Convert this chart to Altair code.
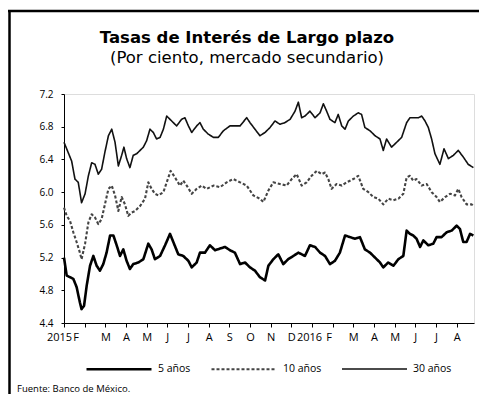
import json
import altair as alt
import pandas as pd

# ---------------- data ----------------
month_labels = ["2015", "F", "M", "A", "M", "J", "J", "A", "S", "O", "N", "D",
                "2016", "F", "M", "A", "M", "J", "J", "A"]
y_ticks = [4.4, 4.8, 5.2, 5.6, 6.0, 6.4, 6.8, 7.2]
series_names = ["5 años", "10 años", "30 años"]

# month position (0 = 1 Jan 2015) and rate, per series
m5 = [0.00, 0.13, 0.29, 0.45, 0.61, 0.77, 0.85, 0.97, 1.10, 1.26, 1.42, 1.58, 1.74, 1.90,
      2.06, 2.23, 2.39, 2.55, 2.71, 2.87, 3.03, 3.19, 3.35, 3.60, 3.84, 4.08, 4.24, 4.40,
      4.65, 4.89, 5.13, 5.29, 5.53, 5.77, 6.02, 6.18, 6.42, 6.58, 6.82, 7.06, 7.31, 7.55,
      7.79, 8.03, 8.27, 8.52, 8.76, 9.00, 9.24, 9.48, 9.73, 9.89, 10.13, 10.37, 10.61,
      10.85, 11.10, 11.34, 11.66, 11.90, 12.15, 12.39, 12.63, 12.87, 13.11, 13.35, 13.60,
      13.84, 14.08, 14.32, 14.56, 14.81, 15.05, 15.29, 15.45, 15.69, 15.94, 16.18, 16.42,
      16.58, 16.74, 16.90, 17.06, 17.23, 17.39, 17.63, 17.87, 18.03, 18.27, 18.52, 18.76,
      19.00, 19.16, 19.32, 19.48, 19.65, 19.81]
v5 = [5.20, 4.98, 4.96, 4.94, 4.84, 4.65, 4.57, 4.61, 4.86, 5.10, 5.22, 5.10, 5.04, 5.12,
      5.26, 5.47, 5.47, 5.35, 5.22, 5.30, 5.16, 5.06, 5.12, 5.14, 5.18, 5.37, 5.30, 5.18,
      5.22, 5.35, 5.49, 5.39, 5.24, 5.22, 5.16, 5.08, 5.14, 5.26, 5.26, 5.35, 5.29, 5.31,
      5.33, 5.29, 5.26, 5.12, 5.14, 5.08, 5.04, 4.96, 4.92, 5.10, 5.18, 5.24, 5.12,
      5.18, 5.22, 5.26, 5.22, 5.35, 5.33, 5.26, 5.22, 5.12, 5.16, 5.26, 5.47,
      5.45, 5.43, 5.45, 5.30, 5.26, 5.20, 5.14, 5.08, 5.14, 5.10, 5.18, 5.22,
      5.53, 5.49, 5.47, 5.43, 5.33, 5.41, 5.35, 5.37, 5.45, 5.45, 5.51, 5.53,
      5.59, 5.55, 5.39, 5.39, 5.49, 5.47]

m10 = [0.00, 0.13, 0.29, 0.45, 0.61, 0.77, 0.85, 1.02, 1.18, 1.34, 1.50, 1.66, 1.82, 1.98,
       2.15, 2.31, 2.47, 2.63, 2.79, 2.95, 3.11, 3.27, 3.44, 3.68, 3.92, 4.08, 4.24, 4.40,
       4.56, 4.81, 4.97, 5.16, 5.37, 5.61, 5.77, 5.94, 6.18, 6.42, 6.66, 6.90, 7.23, 7.55,
       7.87, 8.19, 8.52, 8.84, 9.16, 9.48, 9.65, 9.89, 10.13, 10.45, 10.77, 11.02, 11.26,
       11.50, 11.74, 11.98, 12.23, 12.47, 12.63, 12.79, 12.95, 13.19, 13.44, 13.68, 14.00,
       14.24, 14.48, 14.73, 14.97, 15.21, 15.45, 15.69, 15.94, 16.18, 16.42, 16.58, 16.74,
       16.90, 17.06, 17.31, 17.55, 17.79, 18.03, 18.19, 18.44, 18.68, 18.92, 19.08, 19.24,
       19.48, 19.73, 19.81]
v10 = [5.81, 5.71, 5.65, 5.51, 5.39, 5.26, 5.18, 5.37, 5.63, 5.73, 5.69, 5.61, 5.67, 5.85,
       6.04, 6.08, 5.96, 5.77, 5.94, 5.85, 5.71, 5.75, 5.77, 5.83, 5.92, 6.12, 6.04, 5.98,
       5.96, 6.00, 6.12, 6.26, 6.18, 6.08, 6.14, 6.08, 5.98, 6.04, 6.08, 6.04, 6.08, 6.06,
       6.12, 6.16, 6.12, 6.08, 5.96, 5.92, 5.88, 6.02, 6.12, 6.10, 6.08, 6.16, 6.22,
       6.08, 6.12, 6.20, 6.26, 6.22, 6.24, 6.16, 6.04, 6.10, 6.08, 6.12, 6.16,
       6.20, 6.04, 6.00, 5.94, 5.92, 5.85, 5.92, 5.90, 5.92, 5.98, 6.18, 6.20,
       6.14, 6.16, 6.08, 6.10, 6.00, 5.94, 5.88, 5.94, 5.98, 5.96, 6.04, 5.94,
       5.85, 5.85, 5.83]

m30 = [0.00, 0.37, 0.53, 0.69, 0.85, 1.02, 1.18, 1.34, 1.50, 1.66, 1.82, 1.98, 2.15, 2.31,
       2.47, 2.63, 2.79, 2.90, 3.03, 3.19, 3.35, 3.52, 3.68, 3.84, 4.00, 4.16, 4.32, 4.48,
       4.65, 4.81, 4.97, 5.13, 5.29, 5.45, 5.69, 5.85, 6.02, 6.18, 6.42, 6.58, 6.74, 6.98,
       7.23, 7.47, 7.71, 8.03, 8.19, 8.52, 8.84, 9.00, 9.24, 9.48, 9.73, 9.97, 10.21,
       10.45, 10.69, 10.94, 11.18, 11.34, 11.50, 11.66, 11.90, 12.15, 12.39, 12.55, 12.71,
       12.87, 13.11, 13.27, 13.44, 13.60, 13.76, 14.00, 14.24, 14.40, 14.56, 14.81, 15.05,
       15.29, 15.45, 15.61, 15.85, 16.10, 16.34, 16.58, 16.74, 16.98, 17.15, 17.31, 17.47,
       17.63, 17.79, 17.95, 18.19, 18.39, 18.60, 18.84, 19.08, 19.32, 19.56, 19.81]
v30 = [6.61, 6.38, 6.16, 6.12, 5.87, 5.98, 6.20, 6.36, 6.34, 6.22, 6.28, 6.49, 6.69, 6.77,
       6.61, 6.32, 6.45, 6.55, 6.41, 6.30, 6.45, 6.47, 6.51, 6.55, 6.63, 6.77, 6.73, 6.65,
       6.67, 6.77, 6.93, 6.89, 6.85, 6.81, 6.89, 6.91, 6.81, 6.73, 6.81, 6.85, 6.77, 6.71,
       6.67, 6.67, 6.75, 6.81, 6.81, 6.81, 6.91, 6.85, 6.77, 6.69, 6.73, 6.79, 6.87,
       6.83, 6.85, 6.89, 6.99, 7.10, 6.91, 6.93, 6.99, 6.91, 6.97, 7.08, 6.99,
       6.89, 6.85, 6.95, 6.81, 6.77, 6.87, 6.93, 6.97, 6.95, 6.79, 6.75, 6.69,
       6.65, 6.51, 6.65, 6.55, 6.61, 6.67, 6.85, 6.91, 6.91, 6.91, 6.93, 6.87,
       6.79, 6.65, 6.47, 6.34, 6.53, 6.41, 6.45, 6.51, 6.43, 6.34, 6.30]

title_text = ["Tasas de Interés de Largo plazo"]
subtitle_text = ["(Por ciento, mercado secundario)"]
source_text = ["Fuente: Banco de México."]

# ---------------- build table ----------------
rows = []
for name, ms, vs in [(series_names[0], m5, v5), (series_names[1], m10, v10), (series_names[2], m30, v30)]:
    for a, b in zip(ms, vs):
        rows.append({"mes": a, "tasa": b, "serie": name})
df = pd.DataFrame(rows)

W, H = 410, 229
FONT = "Open Sans"
TFONT = "DejaVu Sans"

label_expr = json.dumps(month_labels) + "[round(datum.value)]"

leg = dict(title=None, orient="none", direction="horizontal",
           legendX=21, legendY=241, symbolType="stroke",
           symbolSize=4225, labelFont=FONT, labelFontSize=10.5,
           labelColor="black", columnPadding=16, labelOffset=5)

lines = alt.Chart(df).mark_line(strokeJoin="round", strokeCap="butt").encode(
    x=alt.X("mes:Q",
            scale=alt.Scale(domain=[0, 19.84], nice=False, zero=False),
            axis=alt.Axis(values=list(range(len(month_labels))), labelExpr=label_expr,
                          title=None, grid=False, domainColor="black", tickColor="black",
                          tickSize=4, labelPadding=4, labelFont=FONT, labelFontSize=11,
                          labelColor="black", labelFlush=False, labelOverlap=False,
                          labelOffset={"condition": [
                              {"test": "datum.value == 0", "value": -5},
                              {"test": "datum.value == 1", "value": -9},
                              {"test": "datum.value == 12", "value": -3},
                              {"test": "datum.value == 13", "value": -4}],
                              "value": 0})),
    y=alt.Y("tasa:Q",
            scale=alt.Scale(domain=[4.4, 7.2], nice=False, zero=False),
            axis=alt.Axis(values=y_ticks, format=".1f", title=None, grid=False,
                          domainColor="black", tickColor="black", tickSize=3,
                          labelPadding=8, labelFont=FONT, labelFontSize=10,
                          labelColor="black")),
    color=alt.Color("serie:N", scale=alt.Scale(domain=series_names,
                                               range=["#000000", "#444444", "#111111"]),
                    legend=alt.Legend(**leg)),
    strokeDash=alt.StrokeDash("serie:N", scale=alt.Scale(domain=series_names,
                                                          range=[[1, 0], [3, 2], [1, 0]]),
                              legend=alt.Legend(**leg)),
    strokeWidth=alt.StrokeWidth("serie:N", scale=alt.Scale(domain=series_names,
                                                            range=[2.6, 1.6, 2.4]),
                                legend=alt.Legend(**leg)),
)

title_mark = alt.Chart(pd.DataFrame({"t": title_text})).mark_text(
    align="center", baseline="middle", font=TFONT, fontSize=16.5, fontWeight="bold", color="black"
).encode(x=alt.value(183), y=alt.value(-56), text="t:N")

subtitle_mark = alt.Chart(pd.DataFrame({"t": subtitle_text})).mark_text(
    align="center", baseline="middle", font=TFONT, fontSize=16.5, color="black"
).encode(x=alt.value(183), y=alt.value(-36), text="t:N")

src = alt.Chart(pd.DataFrame({"t": source_text})).mark_text(
    align="left", baseline="alphabetic", font=FONT, fontSize=9.5, color="black"
).encode(x=alt.value(-47), y=alt.value(298), text="t:N")

frame_top = alt.Chart(pd.DataFrame({"t": [0]})).mark_rule(color="black", strokeWidth=2.5).encode(
    x=alt.value(-56), x2=alt.value(416), y=alt.value(-83))
frame_left = alt.Chart(pd.DataFrame({"t": [0]})).mark_rule(color="black", strokeWidth=2.5).encode(
    x=alt.value(-54.5), y=alt.value(-84), y2=alt.value(310))

chart = alt.layer(lines, title_mark, subtitle_mark, src, frame_top, frame_left).properties(
    width=W, height=H,
    padding={"left": 56, "top": 86, "right": 5, "bottom": 71},
    autosize=alt.AutoSizeParams(type="none"),
).configure_view(stroke=None).configure(background="white")

chart.save("out.html", embed_options={"renderer": "svg", "actions": False})
